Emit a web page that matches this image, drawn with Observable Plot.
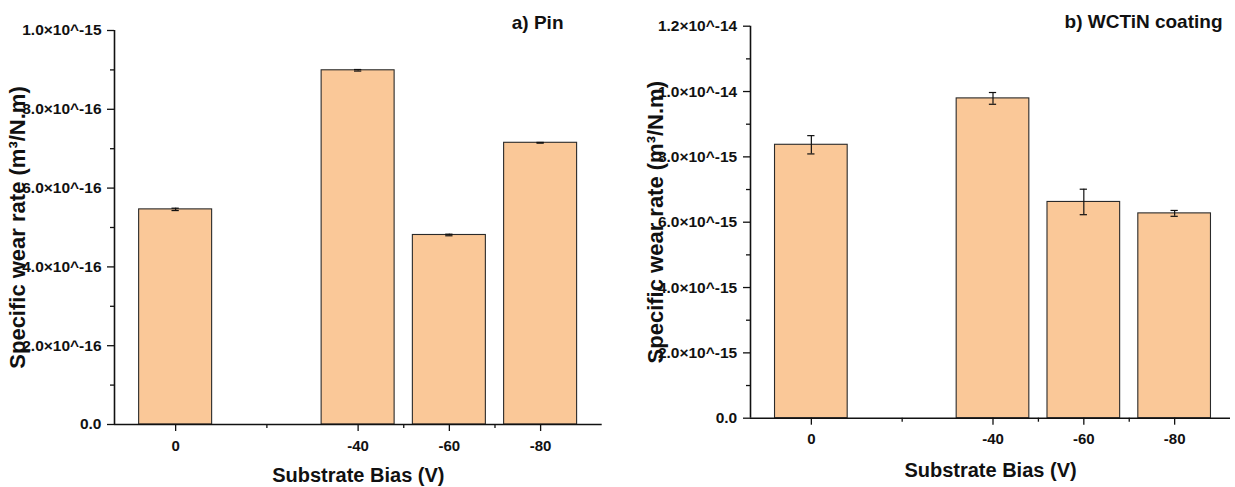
<!DOCTYPE html>
<html><head><meta charset="utf-8">
<script src="https://cdn.jsdelivr.net/npm/d3@7"></script>
<script src="https://cdn.jsdelivr.net/npm/@observablehq/plot@0.6"></script>
<style>
body{margin:0;background:#fff;}
#wrap{position:relative;width:1235px;height:487px;}
</style></head><body><div id="wrap"></div>
<script>
// ---- data ----
const bias = [0, -40, -60, -80];
const pinRate = [5.46e-16, 8.99e-16, 4.81e-16, 7.15e-16];
const pinErr = [0.03e-16, 0.02e-16, 0.02e-16, 0.01e-16];
const coatRate = [8.37e-15, 9.79e-15, 6.62e-15, 6.27e-15];
const coatErr = [0.28e-15, 0.18e-15, 0.39e-15, 0.09e-15];
const majorX = [0, -40, -60, -80];
const minorX = [-20, -50, -70];
const pinMajorY = [0, 2e-16, 4e-16, 6e-16, 8e-16, 1e-15];
const pinMinorY = [1e-16, 3e-16, 5e-16, 7e-16, 9e-16];
const coatMajorY = [0, 2e-15, 4e-15, 6e-15, 8e-15, 1e-14, 1.2e-14];
const coatMinorY = [1e-15, 3e-15, 5e-15, 7e-15, 9e-15, 1.1e-14];
const pinXLimits = [13.4, -93.5];
const coatXLimits = [13.4, -92.3];
const pinYLimits = [0, 1e-15];
const coatYLimits = [0, 1.2e-14];
const panelTitles = ["a) Pin", "b) WCTiN coating"];
const xTitle = "Substrate Bias (V)";
const yTitle = "Specific wear rate (m³/N.m)";

const FONT = '"Liberation Sans", Arial, Helvetica, sans-serif';
const BAR_FILL = "#FAC898";
const BAR_HALF = 8;     // volts
const CAP_HALF = 0.8;   // volts

function fmtY(v) {
  if (v === 0) return "0.0";
  const e = Math.floor(Math.log10(v) + 1e-9);
  const m = v / Math.pow(10, e);
  return m.toFixed(1) + "×10^" + e;
}

function postProcess(svg) {
  const ns = "http://www.w3.org/2000/svg";
  svg.querySelectorAll('g[aria-label="y tick labels"] text').forEach(t => {
    const s = t.textContent;
    if (!s.includes("^")) return;
    const [a, b] = s.split("^");
    t.textContent = "";
    const t1 = document.createElementNS(ns, "tspan"); t1.textContent = a;
    const t2 = document.createElementNS(ns, "tspan"); t2.textContent = b;
    t2.setAttribute("dy", "-0.5em"); t2.setAttribute("font-size", "11.5");
    t.appendChild(t1); t.appendChild(t2);
  });
}

function panel(cfg) {
  const data = bias.map((b, i) => ({bias: b, rate: cfg.rate[i], err: cfg.err[i]}));
  const svg = Plot.plot({
    width: cfg.width, height: 487,
    marginLeft: cfg.ml, marginRight: cfg.mr, marginTop: cfg.mt, marginBottom: cfg.mb,
    style: {position: "absolute", left: cfg.left + "px", top: "0px", fontFamily: FONT, fontWeight: "bold", fontSize: "15px", color: "#111", background: "transparent", overflow: "visible"},
    x: {domain: cfg.xlim},
    y: {domain: cfg.ylim},
    marks: [
      Plot.rectY(data, {x1: d => d.bias + BAR_HALF, x2: d => d.bias - BAR_HALF, y: "rate", fill: BAR_FILL, stroke: "#2a2a2a", strokeWidth: 1.1}),
      Plot.ruleX(data, {x: "bias", y1: d => d.rate - d.err, y2: d => d.rate + d.err, stroke: "#111", strokeWidth: 1.2}),
      Plot.ruleY(data, {y: d => d.rate + d.err, x1: d => d.bias + CAP_HALF, x2: d => d.bias - CAP_HALF, stroke: "#111", strokeWidth: 1.2}),
      Plot.ruleY(data, {y: d => d.rate - d.err, x1: d => d.bias + CAP_HALF, x2: d => d.bias - CAP_HALF, stroke: "#111", strokeWidth: 1.2}),
      Plot.ruleY([cfg.ylim[0]], {x1: cfg.xlim[0], x2: cfg.xlim[1], stroke: "#111", strokeWidth: 1.6}),
      Plot.ruleX([cfg.xlim[0]], {y1: cfg.ylim[0], y2: cfg.ylim[1], stroke: "#111", strokeWidth: 1.6}),
      Plot.axisY({ticks: cfg.majorY, tickSize: 7, tickFormat: () => "", label: null, strokeWidth: 1.3}),
      Plot.axisY({ticks: cfg.minorY, tickSize: 4, tickFormat: () => "", label: null, strokeWidth: 1.3}),
      Plot.axisX({ticks: majorX, tickSize: 7, tickFormat: () => "", label: null, strokeWidth: 1.3}),
      Plot.axisX({ticks: minorX, tickSize: 4, tickFormat: () => "", label: null, strokeWidth: 1.3}),
      Plot.text(cfg.majorY, {y: d => d, text: fmtY, frameAnchor: "left", textAnchor: "end", lineAnchor: "middle", dx: cfg.ylabDx, fontSize: 15.5, fill: "#111", ariaLabel: "y tick labels"}),
      Plot.text(majorX, {x: d => d, text: d => String(d), frameAnchor: "bottom", textAnchor: "middle", lineAnchor: "top", dy: cfg.xlabDy, fontSize: 15, fill: "#111", ariaLabel: "x tick labels"}),
      Plot.text([yTitle], {text: d => d, frameAnchor: "left", textAnchor: "middle", lineAnchor: "middle", dx: cfg.ytdx, rotate: -90, fontSize: 22, fill: "#111"}),
      Plot.text([xTitle], {text: d => d, frameAnchor: "bottom", textAnchor: "middle", lineAnchor: "middle", dy: cfg.xtdy, fontSize: 20, fill: "#111"}),
      Plot.text([cfg.title], {text: d => d, frameAnchor: "top-right", textAnchor: "end", lineAnchor: "middle", dx: cfg.tdx, dy: cfg.tdy, fontSize: 19, fill: "#111"})
    ]
  });
  postProcess(svg);
  return svg;
}

const wrap = document.getElementById("wrap");
wrap.appendChild(panel({
  left: 0, width: 617, ml: 114, mr: 15.3, mt: 30, mb: 63,
  xlim: pinXLimits, ylim: pinYLimits, majorY: pinMajorY, minorY: pinMinorY,
  rate: pinRate, err: pinErr, title: panelTitles[0],
  ylabDx: -13, xlabDy: 16, ytdx: -96.5, xtdy: 51.5, tdx: -38.7, tdy: -8
}));
wrap.appendChild(panel({
  left: 617, width: 618, ml: 133, mr: 5, mt: 25.7, mb: 69.3,
  xlim: coatXLimits, ylim: coatYLimits, majorY: coatMajorY, minorY: coatMinorY,
  rate: coatRate, err: coatErr, title: panelTitles[1],
  ylabDx: -13.3, xlabDy: 15.5, ytdx: -95, xtdy: 52.3, tdx: -8, tdy: -4.3
}));
</script>
</body></html>
